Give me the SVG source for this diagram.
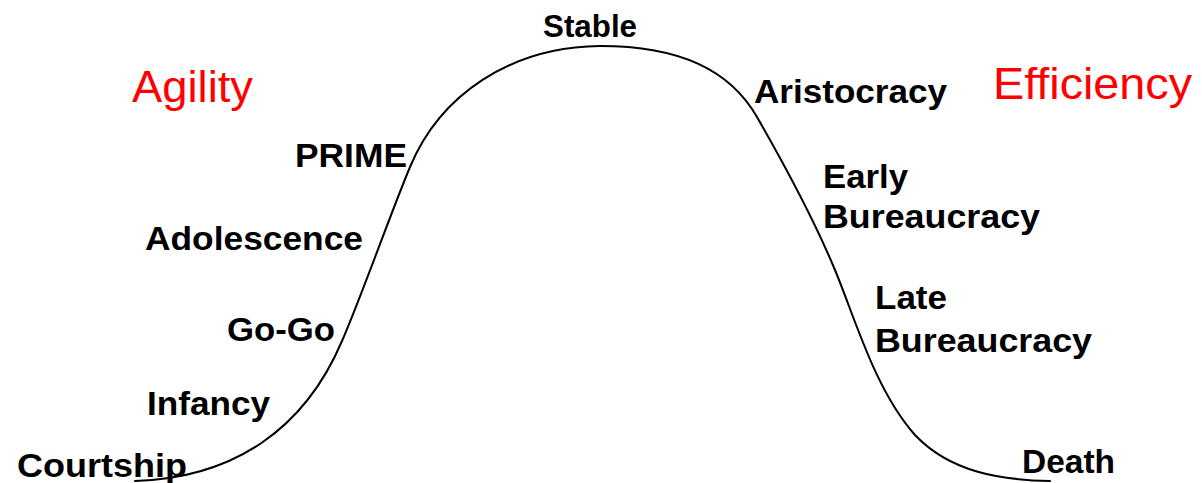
<svg xmlns="http://www.w3.org/2000/svg" width="1202" height="483" viewBox="0 0 1202 483">
  <style>
    .stage { font-family: "Liberation Sans", Arial, sans-serif; font-weight: bold; font-size: 34px; fill: #000000; }
    .theme { font-family: "Liberation Sans", Arial, sans-serif; font-weight: normal; font-size: 45px; fill: #FF0000; }
    .curve { fill: none; stroke: #000000; stroke-width: 2; stroke-linecap: round; }
  </style>
  <rect x="0" y="0" width="1202" height="483" fill="#FFFFFF"/>
  <g id="connectors">
    <path class="curve" d="M135 481 C 235 478, 305 428, 342 341 C 360 300, 390 215, 410 167 C 440 95, 510 47, 600 46 C 680 46, 730 70, 757 117 C 780 157, 815 222, 835 270 C 855 318, 875 390, 915 435 C 950 472, 1000 480, 1050 481"/>
  </g>
  <g id="agility"><text class="theme" x="132" y="102" textLength="121" lengthAdjust="spacingAndGlyphs">Agility</text></g>
  <g id="efficiency"><text class="theme" x="993" y="99" textLength="199" lengthAdjust="spacingAndGlyphs">Efficiency</text></g>
  <g id="stable"><text class="stage" x="543" y="37" style="font-size:32px" textLength="94" lengthAdjust="spacingAndGlyphs">Stable</text></g>
  <g id="prime"><text class="stage" x="295" y="167" textLength="112" lengthAdjust="spacingAndGlyphs">PRIME</text></g>
  <g id="adolescence"><text class="stage" x="145" y="250" textLength="218" lengthAdjust="spacingAndGlyphs">Adolescence</text></g>
  <g id="gogo"><text class="stage" x="227" y="341" textLength="108" lengthAdjust="spacingAndGlyphs">Go-Go</text></g>
  <g id="infancy"><text class="stage" x="147" y="415" textLength="123" lengthAdjust="spacingAndGlyphs">Infancy</text></g>
  <g id="courtship"><text class="stage" x="17" y="477" textLength="170" lengthAdjust="spacingAndGlyphs">Courtship</text></g>
  <g id="aristocracy"><text class="stage" x="754" y="103" textLength="193" lengthAdjust="spacingAndGlyphs">Aristocracy</text></g>
  <g id="early-bureaucracy">
    <text class="stage" x="823" y="188" textLength="85" lengthAdjust="spacingAndGlyphs">Early</text>
    <text class="stage" x="823" y="228" textLength="217" lengthAdjust="spacingAndGlyphs">Bureaucracy</text>
  </g>
  <g id="late-bureaucracy">
    <text class="stage" x="875" y="309" textLength="72" lengthAdjust="spacingAndGlyphs">Late</text>
    <text class="stage" x="875" y="352" textLength="217" lengthAdjust="spacingAndGlyphs">Bureaucracy</text>
  </g>
  <g id="death"><text class="stage" x="1022" y="473" textLength="93" lengthAdjust="spacingAndGlyphs">Death</text></g>
</svg>
